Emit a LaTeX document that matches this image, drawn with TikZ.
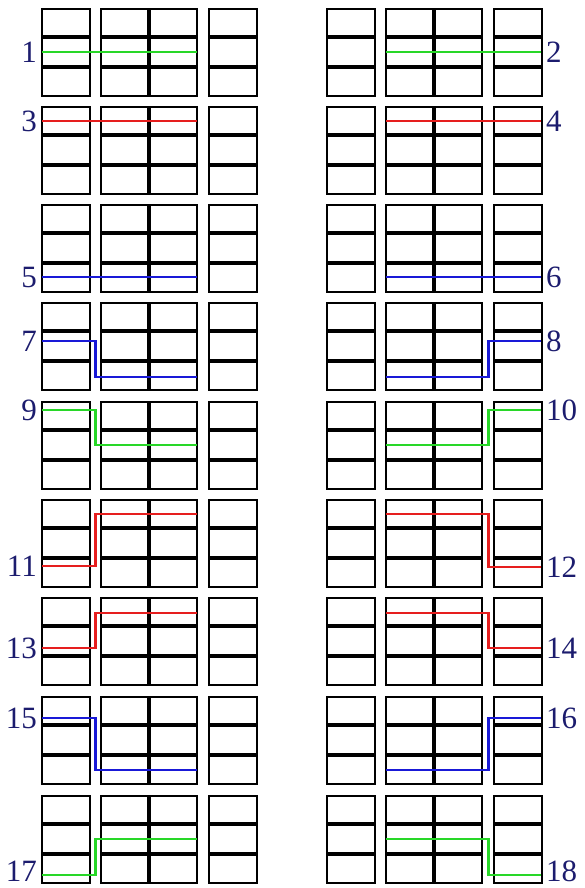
\documentclass[tikz,border=0pt]{standalone}
\usepackage{fontspec}
\setmainfont{Liberation Serif}
\definecolor{labblue}{RGB}{28,28,110}
\definecolor{lgreen}{RGB}{40,215,40}
\definecolor{lred}{RGB}{230,30,30}
\definecolor{lblue}{RGB}{25,25,215}
\tikzset{
  boxline/.style={draw=black,line width=2.4pt},
  divline/.style={draw=black,line width=3.8pt},
  midline/.style={draw=black,line width=4.4pt},
  route/.style={line width=2.2pt},
  lab/.style={inner sep=0pt,text=labblue,font=\fontsize{31}{31}\selectfont},
}
\newcommand\cellpanel[2]{%
  \foreach \a/\b in {42/90,101/197,209/257}{
    \draw[divline] (#1+\a,#2+28) -- (#1+\b,#2+28);
    \draw[divline] (#1+\a,#2+58) -- (#1+\b,#2+58);
    \draw[boxline] (#1+\a,#2) rectangle (#1+\b,#2+87);
  }
  \draw[midline] (#1+149,#2) -- (#1+149,#2+87);
}
\begin{document}
\begin{tikzpicture}[x=1pt,y=-1pt]
\useasboundingbox (0,0) rectangle (584,888);
\fill[white] (0,0) rectangle (584,888);
% grids
\foreach \t in {9,107,205,303,402,500,598,697,796}{
  \cellpanel{0}{\t}
  \cellpanel{285}{\t}
}
% routes: number/colour/top/yStart/yEnd/label offset
\foreach \n/\c/\t/\ya/\yb/\ly in {1/lgreen/9/43/43/43, 3/lred/107/14/14/14, 5/lblue/205/72/72/72,
  7/lblue/303/38/74/38, 9/lgreen/402/8/43/8, 11/lred/500/66/14/66, 13/lred/598/50/15/50,
  15/lblue/697/21/73/21, 17/lgreen/796/79/43/75}{
  \coordinate (s\n) at (42,\t+\ya);
  \coordinate (e\n) at (197,\t+\yb);
  \draw[route,draw=\c] (s\n) -- (95.5,\t+\ya) -- (95.5,\t+\yb) -- (e\n);
  \node[lab,anchor=east] (l\n) at (37,\t+\ly) {\n};
}
\foreach \n/\c/\t/\ya/\yb/\ly in {2/lgreen/9/43/43/43, 4/lred/107/14/14/14, 6/lblue/205/72/72/72,
  8/lblue/303/74/38/38, 10/lgreen/402/43/8/8, 12/lred/500/14/67/67, 14/lred/598/15/50/50,
  16/lblue/697/73/21/21, 18/lgreen/796/43/79/75}{
  \coordinate (s\n) at (386,\t+\ya);
  \coordinate (e\n) at (541,\t+\yb);
  \draw[route,draw=\c] (s\n) -- (488.5,\t+\ya) -- (488.5,\t+\yb) -- (e\n);
  \node[lab,anchor=west] (l\n) at (546,\t+\ly) {\n};
}
\end{tikzpicture}
\end{document}
